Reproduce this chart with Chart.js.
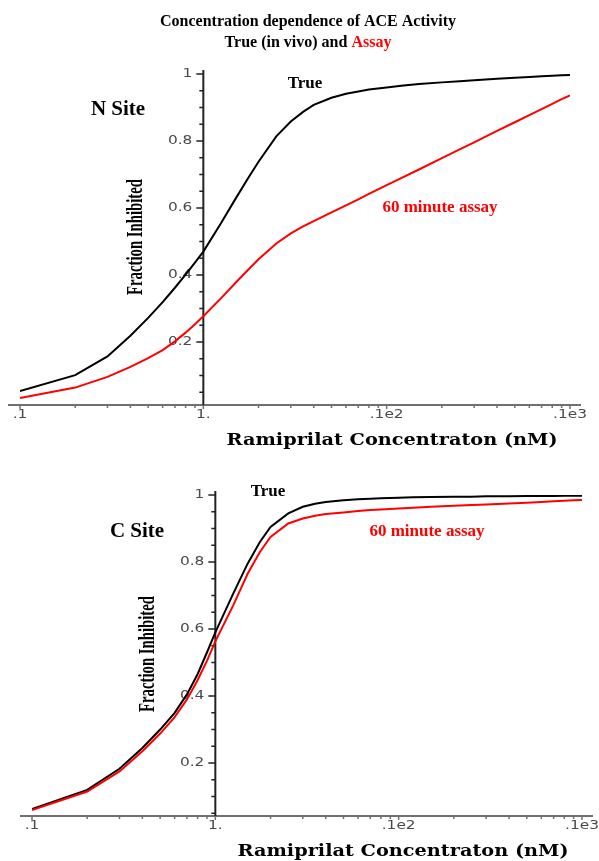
<!DOCTYPE html>
<html>
<head>
<meta charset="utf-8">
<script src="https://cdn.jsdelivr.net/npm/chart.js@4.4.1/dist/chart.umd.min.js"></script>
<style>
  html, body { margin: 0; padding: 0; background: #fff; }
  #wrap { position: relative; width: 599px; height: 861px; }
  canvas { position: absolute; left: 0; }
  #nSite { top: 0; }
  #cSite { top: 462px; }
</style>
</head>
<body>
<div id="wrap">
  <canvas id="nSite" width="599" height="462"></canvas>
  <canvas id="cSite" width="599" height="399"></canvas>
</div>
<script>
// Ramiprilat concentration (nM) where the curves are sampled
const concentration = [0.1, 0.2, 0.3, 0.4, 0.5, 0.6, 0.7, 0.8, 0.9, 1, 1.25, 1.5, 1.75, 2, 2.5, 3, 3.5, 4, 5, 6, 7, 8, 10, 12, 15, 20, 25, 30, 40, 50, 60, 70, 80, 90, 100];

// N site, fraction inhibited
const nTrue  = [0.054, 0.101, 0.157, 0.219, 0.272, 0.319, 0.362, 0.401, 0.437, 0.470, 0.555, 0.628, 0.688, 0.738, 0.814, 0.858, 0.887, 0.908, 0.929, 0.941, 0.948, 0.954, 0.960, 0.965, 0.970, 0.975, 0.978, 0.981, 0.986, 0.989, 0.991, 0.993, 0.995, 0.996, 0.997];
const nAssay = [0.033, 0.064, 0.096, 0.126, 0.152, 0.176, 0.202, 0.228, 0.253, 0.277, 0.331, 0.377, 0.415, 0.447, 0.494, 0.524, 0.545, 0.561, 0.587, 0.608, 0.626, 0.642, 0.668, 0.689, 0.715, 0.749, 0.775, 0.796, 0.830, 0.856, 0.877, 0.895, 0.911, 0.925, 0.936];

// C site, fraction inhibited
const cTrue  = [0.063, 0.120, 0.183, 0.245, 0.300, 0.350, 0.405, 0.465, 0.530, 0.590, 0.705, 0.795, 0.860, 0.905, 0.945, 0.965, 0.974, 0.979, 0.984, 0.987, 0.989, 0.990, 0.992, 0.993, 0.994, 0.995, 0.995, 0.996, 0.996, 0.997, 0.997, 0.997, 0.998, 0.998, 0.998];
const cAssay = [0.060, 0.115, 0.175, 0.235, 0.288, 0.337, 0.390, 0.447, 0.505, 0.563, 0.670, 0.765, 0.830, 0.875, 0.915, 0.930, 0.938, 0.943, 0.948, 0.952, 0.955, 0.957, 0.960, 0.962, 0.965, 0.968, 0.970, 0.972, 0.975, 0.977, 0.979, 0.981, 0.983, 0.984, 0.985];

// axis ticks, labelled the way Maple prints them
const xTicks = [0.1, 1, 10, 100];
const xTickLabels = ['.1', '1.', '.1e2', '.1e3'];
const yTicks = [0.2, 0.4, 0.6, 0.8, 1];
const yTickLabels = ['0.2', '0.4', '0.6', '0.8', '1'];

const seriesNames = ['True', '60 minute assay'];
const seriesColors = ['#000000', '#ff0000'];

const SERIF = '"Liberation Serif", "Times New Roman", serif';

function points(values) {
    return concentration.map((c, i) => ({ x: c, y: values[i] }));
}

// text squeezed or stretched along its baseline to a given length
function fitText(ctx, text, cx, cy, length, angle) {
    const w = ctx.measureText(text).width;
    ctx.save();
    ctx.translate(cx, cy);
    ctx.rotate(angle || 0);
    ctx.scale(length / w, 1);
    ctx.textAlign = 'center';
    ctx.textBaseline = 'middle';
    ctx.fillText(text, 0, 0);
    ctx.restore();
}

// Maple style axes: y axis crossing at x = 1, x axis along the bottom
function mapleAxes(panel) {
    return {
        id: 'mapleAxes',
        beforeDatasetsDraw(chart) {
            const ctx = chart.ctx;
            const xs = chart.scales.x, ys = chart.scales.y;
            const area = chart.chartArea;
            const x0 = xs.getPixelForValue(1);
            const yb = area.bottom;
            ctx.save();

            // horizontal axis with log minor ticks
            ctx.strokeStyle = '#707070';
            ctx.lineWidth = 2;
            ctx.beginPath();
            ctx.moveTo(area.left - 12, yb);
            ctx.lineTo(area.right + 11, yb);
            ctx.stroke();
            ctx.lineWidth = 1.5;
            ctx.beginPath();
            for (let d = 0.1; d < 100; d *= 10) {
                for (let k = 1; k < 10; k++) {
                    const px = xs.getPixelForValue(d * k);
                    ctx.moveTo(px, yb);
                    ctx.lineTo(px, yb + (k === 1 ? 4 : 3));
                }
            }
            const pEnd = xs.getPixelForValue(100);
            ctx.moveTo(pEnd, yb);
            ctx.lineTo(pEnd, yb + 4);
            ctx.stroke();

            // vertical axis
            ctx.strokeStyle = '#222';
            ctx.lineWidth = 2;
            ctx.beginPath();
            ctx.moveTo(x0, ys.getPixelForValue(1) - 4);
            ctx.lineTo(x0, yb);
            ctx.stroke();
            ctx.lineWidth = 1.5;
            ctx.beginPath();
            for (let i = 1; i <= 20; i++) {
                const v = i * 0.05;
                if (v < ys.min) continue;
                const py = ys.getPixelForValue(v);
                const len = (i % 4 === 0) ? 7 : 4;
                ctx.moveTo(x0, py);
                ctx.lineTo(x0 - len, py);
            }
            ctx.stroke();

            // tick labels
            ctx.fillStyle = '#4a4a4a';
            ctx.font = '12px "DejaVu Sans", sans-serif';
            ctx.textBaseline = 'middle';
            yTicks.forEach((v, i) => {
                const py = ys.getPixelForValue(v);
                const w = ctx.measureText(yTickLabels[i]).width * 1.28;
                ctx.save();
                ctx.translate(x0 - 11 - w, py);
                ctx.scale(1.28, 1);
                ctx.textAlign = 'left';
                ctx.fillText(yTickLabels[i], 0, 0);
                ctx.restore();
            });
            xTicks.forEach((v, i) => {
                const px = xs.getPixelForValue(v);
                ctx.save();
                ctx.translate(px, yb + 10);
                ctx.scale(1.28, 1);
                ctx.textAlign = 'center';
                ctx.fillText(xTickLabels[i], 0, 0);
                ctx.restore();
            });
            ctx.restore();
        },
        afterDraw(chart) {
            const ctx = chart.ctx;
            ctx.save();
            ctx.textAlign = 'center';
            ctx.textBaseline = 'middle';
            ctx.fillStyle = '#000';

            ctx.font = 'bold 21px ' + SERIF;
            ctx.fillText(panel.site, panel.sitePos[0], panel.sitePos[1]);

            ctx.font = 'bold 17px ' + SERIF;
            ctx.fillStyle = seriesColors[0];
            ctx.fillText(seriesNames[0], panel.truePos[0], panel.truePos[1]);
            ctx.fillStyle = seriesColors[1];
            ctx.fillText(seriesNames[1], panel.assayPos[0], panel.assayPos[1]);

            ctx.fillStyle = '#000';
            ctx.font = 'bold 24px ' + SERIF;
            fitText(ctx, 'Fraction Inhibited', panel.yTitle[0], panel.yTitle[1], 116, -Math.PI / 2);

            ctx.font = 'bold 17px "DejaVu Serif", serif';
            fitText(ctx, 'Ramiprilat Concentraton (nM)', panel.xTitle[0], panel.xTitle[1], 331, 0);

            if (panel.title) {
                ctx.font = 'bold 16px ' + SERIF;
                ctx.fillText('Concentration dependence of ACE Activity', panel.title[0], panel.title[1]);
                const a = 'True (in vivo) and ', b = 'Assay';
                const wa = ctx.measureText(a).width, wb = ctx.measureText(b).width;
                const left = panel.title[0] - (wa + wb) / 2;
                ctx.textAlign = 'left';
                ctx.fillText(a, left, panel.title[1] + 21);
                ctx.fillStyle = '#ff0000';
                ctx.fillText(b, left + wa, panel.title[1] + 21);
            }
            ctx.restore();
        }
    };
}

function makePanel(canvasId, trueVals, assayVals, yMin, padding, panel) {
    return new Chart(document.getElementById(canvasId), {
        type: 'line',
        data: {
            datasets: [
                {
                    label: seriesNames[1],
                    data: points(assayVals),
                    borderColor: seriesColors[1],
                    borderWidth: 2,
                    pointRadius: 0,
                    tension: 0,
                    order: 0,
                },
                {
                    label: seriesNames[0],
                    data: points(trueVals),
                    borderColor: seriesColors[0],
                    borderWidth: 2,
                    pointRadius: 0,
                    tension: 0,
                    order: 1,
                },
            ],
        },
        options: {
            responsive: false,
            animation: false,
            devicePixelRatio: 1,
            events: [],
            layout: { padding: padding },
            scales: {
                x: { type: 'logarithmic', min: 0.1, max: 100, display: false },
                y: { type: 'linear', min: yMin, max: 1, display: false },
            },
            plugins: {
                legend: { display: false },
                tooltip: { enabled: false },
            },
        },
        plugins: [mapleAxes(panel)],
    });
}

makePanel('nSite', nTrue, nAssay, 0.012,
    { left: 20, right: 29, top: 74, bottom: 57 },
    {
        site: 'N Site', sitePos: [118, 110],
        truePos: [305, 84], assayPos: [440, 208],
        yTitle: [136, 237], xTitle: [392, 441],
        title: [308, 22],
    });

makePanel('cSite', cTrue, cAssay, 0.042,
    { left: 32, right: 17, top: 33, bottom: 45 },
    {
        site: 'C Site', sitePos: [137, 70],
        truePos: [268, 30], assayPos: [427, 70],
        yTitle: [148, 192], xTitle: [403, 390],
    });
</script>
</body>
</html>
